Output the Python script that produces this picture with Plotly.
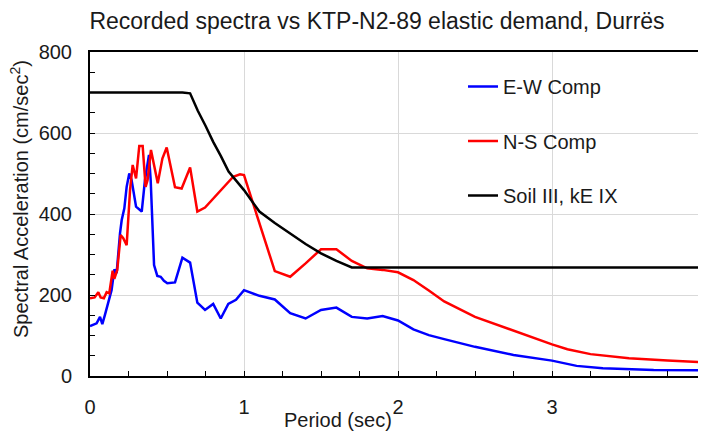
import plotly.graph_objects as go

# ---- data ----
period_ew = [0, 0.02, 0.043, 0.065, 0.08, 0.097, 0.12, 0.14, 0.158, 0.173, 0.195, 0.206,
             0.223, 0.238, 0.255, 0.27, 0.299, 0.336, 0.357, 0.383, 0.394, 0.416, 0.437,
             0.459, 0.48, 0.502, 0.552, 0.60, 0.65, 0.697, 0.747, 0.80, 0.849, 0.898,
             0.948, 1.0, 1.1, 1.2, 1.3, 1.4, 1.5, 1.6, 1.7, 1.8, 1.9, 2.0, 2.1, 2.2, 2.3,
             2.5, 2.75, 3.0, 3.16, 3.33, 3.66, 4.0]
sa_ew = [123, 126, 130, 146, 128, 151, 184, 212, 263, 254, 353, 385,
         414, 467, 500, 484, 418, 406, 484, 546, 484, 274, 247,
         245, 235, 229, 231, 292, 280, 181, 163, 178, 142, 178,
         188, 212, 198, 189, 155, 142, 163, 169, 146, 142, 148, 137, 115, 101, 91,
         72, 52, 38, 25, 19, 15, 14]

period_ns = [0, 0.03, 0.054, 0.069, 0.09, 0.108, 0.125, 0.147, 0.158, 0.177, 0.199, 0.216,
             0.238, 0.26, 0.277, 0.299, 0.32, 0.342, 0.361, 0.374, 0.396, 0.416, 0.44,
             0.47, 0.498, 0.552, 0.595, 0.65, 0.697, 0.747, 0.844, 0.93, 0.974, 1.0,
             1.2, 1.3, 1.4, 1.5, 1.6, 1.7, 1.8, 1.9, 2.0, 2.1, 2.2, 2.3, 2.5, 2.8,
             3.0, 3.1, 3.25, 3.5, 3.75, 4.0]
sa_ns = [192, 194, 207, 194, 192, 207, 204, 260, 240, 262, 348, 340,
         323, 459, 521, 488, 568, 568, 467, 484, 558, 517, 476,
         537, 564, 466, 463, 515, 406, 416, 455, 492, 498, 496,
         259, 245, 278, 313, 313, 284, 266, 262, 256, 237, 211, 184, 146, 105,
         78, 66, 54, 44, 38, 34]

period_code = [0, 0.6, 0.65, 0.7, 0.75, 0.8, 0.85, 0.9, 1.0, 1.1, 1.2, 1.3, 1.4, 1.5,
               1.6, 1.7, 4.0]
sa_code = [700, 700, 698, 655, 618, 578, 543, 505, 459, 406, 378, 351, 326, 303,
           284, 268, 268]

names = ["E-W Comp", "N-S Comp", "Soil III, kE IX"]
colors = ["#0000FF", "#FF0000", "#000000"]

FONT = "Liberation Sans, Arial, sans-serif"

# page body has an 8px default margin: lay out in window pixels, then offset
OFF = 8
WIN_W, WIN_H = 706, 441
W, H = WIN_W - OFF, WIN_H - OFF
PL, PT, PR, PB = 90, 52, 706, 376          # plot area in window pixels
plot_w, plot_h = PR - PL, PB - PT


def px(xw):
    return (xw - PL) / plot_w


def py(yw):
    return (PB - yw) / plot_h


fig = go.Figure()
for i, (xs, ys) in enumerate([(period_ew, sa_ew), (period_ns, sa_ns), (period_code, sa_code)]):
    fig.add_trace(go.Scatter(x=xs, y=ys, mode="lines", name=names[i],
                             legendgroup="g%d" % i,
                             line=dict(color=colors[i], width=2.5)))

fig.update_layout(
    width=W, height=H,
    margin=dict(l=PL - OFF, r=WIN_W - PR, t=PT - OFF, b=WIN_H - PB, autoexpand=False),
    paper_bgcolor="white", plot_bgcolor="white",
    font=dict(family=FONT, size=20, color="#1a1a1a"),
    title=dict(text="Recorded spectra vs KTP-N2-89 elastic demand, Durrës",
               x=(377 - OFF) / W, y=1 - (21 - OFF) / H, xanchor="center", yanchor="middle",
               xref="container", yref="container",
               font=dict(family=FONT, size=23, color="#1a1a1a")),
    showlegend=True,
    legend=dict(x=px(463), y=py(67), xanchor="left", yanchor="top",
                bgcolor="rgba(0,0,0,0)", borderwidth=0, traceorder="grouped",
                tracegroupgap=25.5, font=dict(family=FONT, size=20, color="#1a1a1a")),
    shapes=[dict(type="rect", xref="paper", yref="paper",
                 x0=px(390), x1=px(697), y0=py(223), y1=1,
                 fillcolor="white", line=dict(width=0), layer="between")],
    annotations=[
        dict(text="Spectral Acceleration (cm/sec<sup>2</sup>)", textangle=-90,
             xref="paper", yref="paper", x=px(19), y=py(199),
             xanchor="center", yanchor="middle", showarrow=False,
             font=dict(family=FONT, size=20, color="#1a1a1a")),
        dict(text="Period (sec)", xref="paper", yref="paper",
             x=px(338), y=py(420),
             xanchor="center", yanchor="middle", showarrow=False,
             font=dict(family=FONT, size=20, color="#1a1a1a")),
    ],
)

fig.update_xaxes(range=[0, 4], dtick=1, tick0=0, showgrid=True, gridcolor="#d9d9d9",
                 gridwidth=1, zeroline=False, showline=True, linecolor="black",
                 linewidth=2, mirror=True, ticks="inside", ticklen=5, tickcolor="black",
                 ticklabelstandoff=12, automargin=False, ticklabeloverflow="allow",
                 minor=dict(dtick=0.25, ticks="inside", ticklen=5, tickcolor="black",
                            showgrid=False))
fig.update_yaxes(range=[0, 800], dtick=200, tick0=0, showgrid=True, gridcolor="#d9d9d9",
                 gridwidth=1, zeroline=False, showline=True, linecolor="black",
                 linewidth=2, ticks="inside", ticklen=5, tickcolor="black",
                 ticklabelstandoff=12, automargin=False,
                 minor=dict(dtick=50, ticks="inside", ticklen=5, tickcolor="black",
                            showgrid=False))

fig.write_html("out.html")
